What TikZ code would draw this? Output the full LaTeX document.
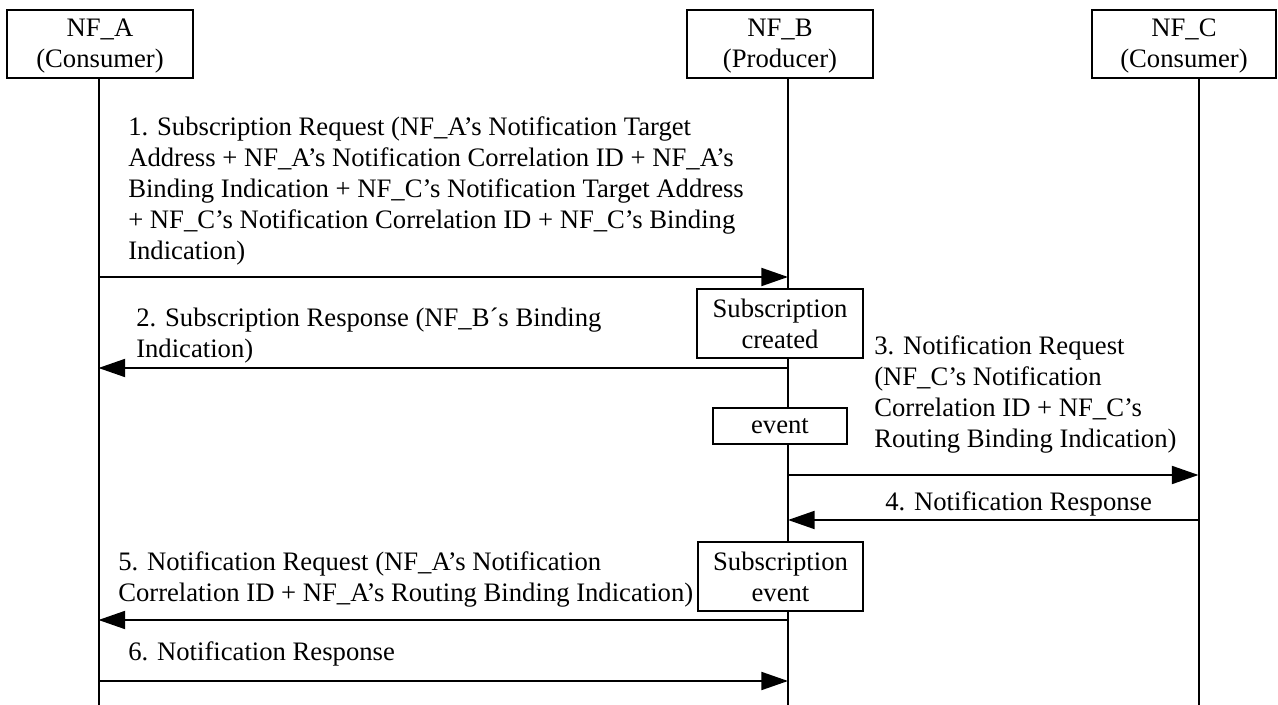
\documentclass[tikz,border=0pt]{standalone}
\usepackage{fontspec}
\setmainfont{Liberation Serif}
\usetikzlibrary{arrows.meta}
\newcommand{\toppad}{\rule{0pt}{17pt}}
\begin{document}
\begin{tikzpicture}[x=0.75pt,y=-0.75pt,
  font=\fontsize{20}{23.25}\selectfont,
  ent/.style={draw, line width=1.5pt, fill=white, inner sep=0pt, align=center,
    minimum width=139.5pt, minimum height=51pt},
  evbox/.style={draw, line width=1.5pt, fill=white, inner sep=0pt, align=center},
  life/.style={line width=1.5pt},
  msg/.style={line width=1.5pt, -{Triangle[length=20pt,width=13.5pt]}},
  lbl/.style={inner sep=0pt, align=left, anchor=base west}]
\useasboundingbox (0,0) rectangle (1278,705);
% entity boxes
\node[ent] (A) at (100,44) {\toppad NF\_A\\(Consumer)};
\node[ent] (B) at (780,44) {\toppad NF\_B\\(Producer)};
\node[ent, minimum width=138pt] (C) at (1184,44) {\toppad NF\_C\\(Consumer)};
% lifelines
\coordinate (Atop) at (98.5,78);  \coordinate (Abot) at (98.5,705);
\coordinate (Btop) at (788,78);   \coordinate (Bbot) at (788,705);
\coordinate (Ctop) at (1198.5,78); \coordinate (Cbot) at (1198.5,705);
\draw[life] (Atop) -- (Abot);
\draw[life] (Btop) -- (Bbot);
\draw[life] (Ctop) -- (Cbot);
% boxes on NF_B lifeline
\node[evbox, minimum width=124.5pt, minimum height=51.75pt] (sc) at (780,323.5) {Subscription\\created};
\node[evbox, minimum width=100.5pt, minimum height=27pt] (ev) at (780,426) {event};
\node[evbox, minimum width=123.75pt, minimum height=51.75pt] (se) at (780.5,576.5) {Subscription\\event};
% message rows
\coordinate (r1) at (0,277);
\coordinate (r2) at (0,368);
\coordinate (r3) at (0,475);
\coordinate (r4) at (0,520);
\coordinate (r5) at (0,620);
\coordinate (r6) at (0,681);
\draw[msg] (Atop |- r1) -- (Btop |- r1);
\draw[msg] (Btop |- r2) -- (Atop |- r2);
\draw[msg] (Btop |- r3) -- (Ctop |- r3);
\draw[msg] (Ctop |- r4) -- (Btop |- r4);
\draw[msg] (Btop |- r5) -- (Atop |- r5);
\draw[msg] (Atop |- r6) -- (Btop |- r6);
% labels (anchor = baseline of the last line)
\node[lbl] (l1) at (128,260) {1. Subscription Request (NF\_A’s Notification Target\\Address + NF\_A’s Notification Correlation ID + NF\_A’s\\Binding Indication + NF\_C’s Notification Target Address\\+ NF\_C’s Notification Correlation ID + NF\_C’s Binding\\Indication)};
\node[lbl] (l2) at (136,358) {2. Subscription Response (NF\_B´s Binding\\Indication)};
\node[lbl] (l3) at (874,448) {3. Notification Request\\(NF\_C’s Notification\\Correlation ID + NF\_C’s\\Routing Binding Indication)};
\node[lbl] (l4) at (885,511) {4. Notification Response};
\node[lbl] (l5) at (118,601) {5. Notification Request (NF\_A’s Notification\\Correlation ID + NF\_A’s Routing Binding Indication)};
\node[lbl] (l6) at (128,660) {6. Notification Response};
\end{tikzpicture}
\end{document}
